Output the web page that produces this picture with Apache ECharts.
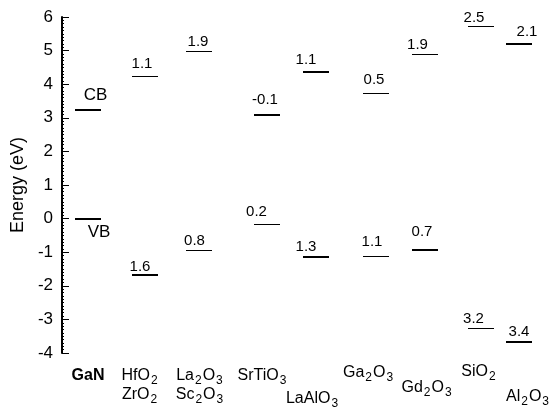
<!DOCTYPE html>
<html><head><meta charset="utf-8">
<script src="https://cdn.jsdelivr.net/npm/echarts@6/dist/echarts.min.js"></script>
<style>html,body{margin:0;padding:0;background:#fff}#c{width:555px;height:416px}</style>
</head><body><div id="c"></div>
<script>
// ---- data ----
const materials = ['GaN', 'HfO_2\nZrO_2', 'La_2O_3\nSc_2O_3', 'SrTiO_3', 'LaAlO_3', 'Ga_2O_3', 'Gd_2O_3', 'SiO_2', 'Al_2O_3'];
const xPos      = [0.52, 1.66, 2.74, 4.09, 5.07, 6.27, 7.25, 8.37, 9.13];
const cbEnergy  = [3.22, 4.25, 5.0, 3.09, 4.37, 3.75, 4.91, 5.72, 5.21];
const vbEnergy  = [0, -1.69, -0.94, -0.16, -1.15, -1.12, -0.94, -3.27, -3.66];
const cbLabels  = ['CB', '1.1', '1.9', '-0.1', '1.1', '0.5', '1.9', '2.5', '2.1'];
const vbLabels  = ['VB', '1.6', '0.8', '0.2', '1.3', '1.1', '0.7', '3.2', '3.4'];
const yMin = -4, yMax = 6, yStep = 1;

// ---- layout / style (px) ----
const FONT = '"Liberation Sans", Arial, Helvetica, sans-serif';
const cbWidth = [2, 1, 1, 2, 2, 1, 1, 1, 2];
const vbWidth = [2, 2, 1, 1, 2, 1, 2, 1, 2];
const cbLabelOff = [[7.5,-15],[-3,-12],[-1,-8.5],[-1.5,-15],[-9.5,-11.5],[-1.5,-13],[-7,-9],[-6.5,-9],[8.5,-11.5]];
const vbLabelOff = [[11,14],[-5,-9],[-4.5,-9.7],[-10,-12],[-9.5,-10.6],[-3.5,-14],[-2.5,-18],[-7,-9.3],[0.5,-9.7]];
const nameOff = [[0,24.5],[-5,34],[1,34],[-4,24.5],[-3,47.5],[-7,21.5],[2.5,36.5],[-1.5,20.5],[9.5,45.5]];
const HALF = 13;

function toRich(s, i) {
  const main = i === 0 ? 'b' : 'm';
  return s.split('\n').map(line =>
    '{' + main + '|' + line.replace(/_(\d)/g, '}{s|$1}{' + main + '|') + '}'
  ).join('\n');
}

const levelData = materials.map((m, i) => [xPos[i], cbEnergy[i], vbEnergy[i]]);

function crisp(y, w) { return Math.round(y) + (w % 2 === 1 ? 0.5 : 0); }

function renderLevels(params, api) {
  const i = params.dataIndex;
  const x = api.value(0);
  const pc = api.coord([x, api.value(1)]);
  const pv = api.coord([x, api.value(2)]);
  const children = [];
  const items = [[pc, cbWidth[i], cbLabels[i], cbLabelOff[i], i === 0 ? 17 : 15],
                 [pv, vbWidth[i], vbLabels[i], vbLabelOff[i], i === 0 ? 17 : 15]];
  items.forEach(([p, w, lab, off, fs]) => {
    const y = crisp(p[1], w);
    children.push({
      type: 'line',
      shape: { x1: Math.round(p[0] - HALF), y1: y, x2: Math.round(p[0] + HALF), y2: y },
      style: { stroke: '#000', lineWidth: w }
    });
    children.push({
      type: 'text',
      x: p[0] + off[0], y: p[1] + off[1],
      style: { text: lab, fill: '#000', font: fs + 'px ' + FONT, align: 'center', verticalAlign: 'middle' }
    });
  });
  return { type: 'group', children };
}

function renderNames(params, api) {
  const i = params.dataIndex;
  const p = api.coord([api.value(0), yMin]);
  return {
    type: 'text',
    x: p[0] + nameOff[i][0], y: p[1] + nameOff[i][1],
    style: {
      text: toRich(materials[i], i),
      align: 'center', verticalAlign: 'middle',
      fill: '#000',
      rich: {
        m: { fontSize: 16, fontFamily: FONT, lineHeight: 19, verticalAlign: 'top', fill: '#000' },
        b: { fontSize: 16, fontFamily: FONT, fontWeight: 'bold', lineHeight: 19, verticalAlign: 'top', fill: '#000' },
        s: { fontSize: 12, fontFamily: FONT, lineHeight: 13, verticalAlign: 'bottom', fill: '#000', padding: [0, 1, 0, 1] }
      }
    }
  };
}

const chart = echarts.init(document.getElementById('c'), null, { renderer: 'canvas' });
chart.setOption({
  animation: false,
  backgroundColor: '#fff',
  grid: { left: 62, right: 8, top: 17, bottom: 63 },
  xAxis: { type: 'value', min: 0, max: 9.7, show: false },
  yAxis: {
    type: 'value', min: yMin, max: yMax, interval: yStep,
    name: 'Energy (eV)', nameLocation: 'middle', nameGap: 32,
    nameTextStyle: { fontSize: 18, color: '#000', fontFamily: FONT },
    axisLine: { show: true, lineStyle: { color: '#000', width: 2 } },
    axisTick: { show: true, inside: true, length: 7, lineStyle: { color: '#000', width: 1 } },
    minorTick: { show: true, splitNumber: 10, length: 2, lineStyle: { color: '#000', width: 1 } },
    axisLabel: { fontSize: 17, color: '#000', margin: 9, fontFamily: FONT },
    splitLine: { show: false }
  },
  series: [
    { type: 'custom', data: levelData, renderItem: renderLevels, clip: false, encode: { x: 0, y: [1, 2] } },
    { type: 'custom', data: levelData, renderItem: renderNames, clip: false, encode: { x: 0, y: 1 } }
  ]
});
</script>
</body></html>
